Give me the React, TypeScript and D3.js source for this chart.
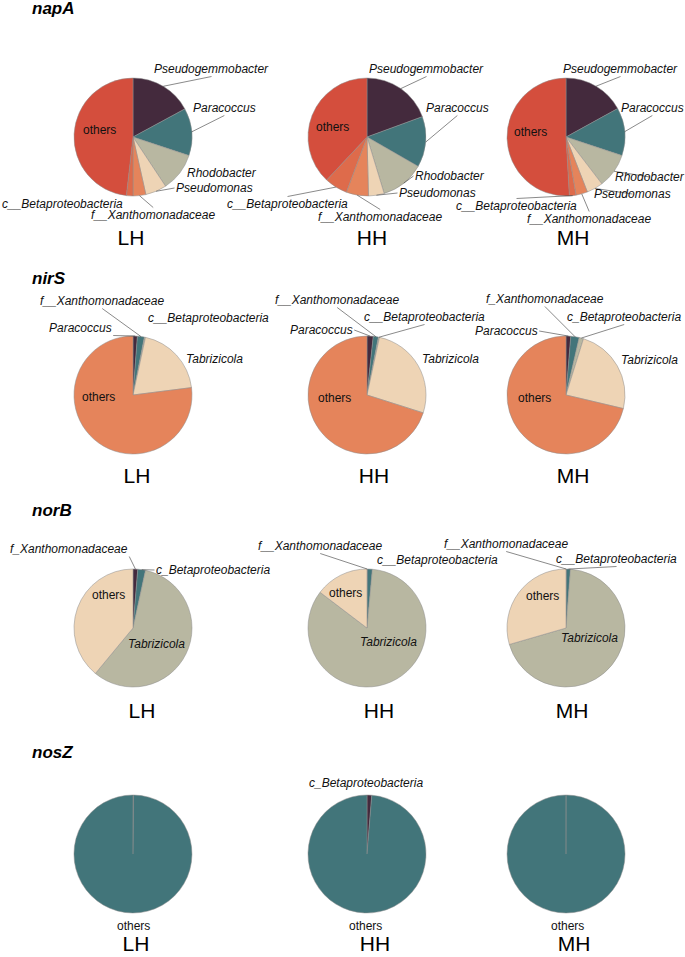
import React, { useEffect, useRef } from 'react';
import * as d3 from 'd3';

// ---------------- DATA ----------------
const genes = ['napA', 'nirS', 'norB', 'nosZ'];
const groups = ['LH', 'HH', 'MH'];

// napA (percent, clockwise from 12 o'clock)
const napATaxa = ['Pseudogemmobacter', 'Paracoccus', 'Rhodobacter', 'Pseudomonas', 'f__Xanthomonadaceae', 'c__Betaproteobacteria', 'others'];
const napALH = [17.1, 13.0, 10.6, 5.8, 3.5, 1.8, 48.2];
const napAHH = [19.4, 13.9, 12.0, 4.3, 6.1, 6.3, 38.0];
const napAMH = [17.0, 13.1, 9.5, 4.5, 3.2, 1.8, 50.9];

// nirS
const nirSTaxa = ['Paracoccus', 'f__Xanthomonadaceae', 'c__Betaproteobacteria', 'Tabrizicola', 'others'];
const nirSTaxaMH = ['Paracoccus', 'f_Xanthomonadaceae', 'c_Betaproteobacteria', 'Tabrizicola', 'others'];
const nirSLH = [1.2, 1.9, 0.3, 19.6, 77.0];
const nirSHH = [1.7, 1.4, 0.3, 26.5, 70.1];
const nirSMH = [1.3, 2.3, 1.2, 23.9, 71.3];

// norB
const norBTaxa = ['f__Xanthomonadaceae', 'c__Betaproteobacteria', 'Tabrizicola', 'others'];
const norBTaxaLH = ['f_Xanthomonadaceae', 'c_Betaproteobacteria', 'Tabrizicola', 'others'];
const norBLH = [1.3, 2.1, 57.6, 39.0];
const norBHH = [0.1, 1.35, 83.9, 14.65];
const norBMH = [0.1, 1.1, 69.3, 29.5];

// nosZ
const nosZTaxa = ['c_Betaproteobacteria', 'others'];
const nosZLH = [0.15, 99.85];
const nosZHH = [1.3, 98.7];
const nosZMH = [0.02, 99.98];

const panelValues: Record<string, number[]> = {
  'napA-LH': napALH, 'napA-HH': napAHH, 'napA-MH': napAMH,
  'nirS-LH': nirSLH, 'nirS-HH': nirSHH, 'nirS-MH': nirSMH,
  'norB-LH': norBLH, 'norB-HH': norBHH, 'norB-MH': norBMH,
  'nosZ-LH': nosZLH, 'nosZ-HH': nosZHH, 'nosZ-MH': nosZMH,
};
const panelNames: Record<string, string[]> = {
  'napA-LH': napATaxa, 'napA-HH': napATaxa, 'napA-MH': napATaxa,
  'nirS-LH': nirSTaxa, 'nirS-HH': nirSTaxa, 'nirS-MH': nirSTaxaMH,
  'norB-LH': norBTaxaLH, 'norB-HH': norBTaxa, 'norB-MH': norBTaxa,
  'nosZ-LH': nosZTaxa, 'nosZ-HH': nosZTaxa, 'nosZ-MH': nosZTaxa,
};

// ---------------- STYLE / LAYOUT ----------------
const PLUM = '#442a3d', TEAL = '#42757a', KHAKI = '#b8b7a1', PEACH = '#eed4b5';
const SALMON = '#e5845b', ORANGE = '#de6b4b', RED = '#d44e3d';
const geneColors: Record<string, string[]> = {
  napA: [PLUM, TEAL, KHAKI, PEACH, SALMON, ORANGE, RED],
  nirS: [PLUM, TEAL, KHAKI, PEACH, SALMON],
  norB: [PLUM, TEAL, KHAKI, PEACH],
  nosZ: [PLUM, TEAL],
};

const W = 685, H = 957;
const R = 59;
const pieCX = [133, 367, 566];
const rowCY = [137, 395, 628, 854];
const titleX = 32;
const titleY = [14, 284, 516, 758];
const groupLabelY = [245, 483, 718, 951];
const groupLabelX = [[131, 372, 573], [137, 374, 573], [142, 379, 572], [136, 375, 574]];

type P = [number, number] | null;
const labelPos: Record<string, P[]> = {
  'napA-LH': [[154, 73], [193, 112], [187, 177], [176, 192], [91, 219], [2, 208], [83, 134]],
  'napA-HH': [[369, 73], [426, 112], [415, 180], [399, 197], [318, 221], [227, 208], [316, 131]],
  'napA-MH': [[563, 73], [621, 112], [615, 181], [594, 198], [527, 223], [456, 210], [514, 136]],
  'nirS-LH': [[49, 332], [40, 305], [148, 322], [186, 363], [82, 401]],
  'nirS-HH': [[290, 334], [275, 304], [364, 321], [422, 363], [318, 402]],
  'nirS-MH': [[475, 335], [486, 303], [567, 321], [621, 364], [518, 402]],
  'norB-LH': [[10, 553], [156, 574], [128, 648], [92, 599]],
  'norB-HH': [[258, 550], [377, 564], [360, 646], [329, 597]],
  'norB-MH': [[444, 548], [556, 563], [561, 642], [526, 600]],
  'nosZ-LH': [null, [117, 930]],
  'nosZ-HH': [[309, 787], [349, 930]],
  'nosZ-MH': [null, [551, 930]],
};

const FONT = '"Liberation Sans", Arial, Helvetica, sans-serif';

export default function App() {
  const ref = useRef<SVGSVGElement>(null);

  useEffect(() => {
    const svg = d3.select(ref.current);
    svg.selectAll('*').remove();
    svg.append('rect').attr('width', W).attr('height', H).attr('fill', '#ffffff');

    const pieLayer = svg.append('g');
    const segLayer = svg.append('g');
    const textLayer = svg.append('g');

    const pie = d3.pie<number>().sort(null).value((d) => d);
    const arc = d3.arc<d3.PieArcDatum<number>>().innerRadius(0).outerRadius(R);

    genes.forEach((gene, gi) => {
      textLayer.append('text')
        .attr('x', titleX).attr('y', titleY[gi])
        .attr('font-family', FONT).attr('font-size', 17)
        .attr('font-weight', 'bold').attr('font-style', 'italic')
        .attr('fill', '#000')
        .text(gene);

      groups.forEach((grp, ci) => {
        const key = `${gene}-${grp}`;
        const vals = panelValues[key];
        const names = panelNames[key];
        const colors = geneColors[gene];
        const cx = pieCX[ci], cy = rowCY[gi];
        const arcs = pie(vals);

        pieLayer.append('g')
          .attr('transform', `translate(${cx},${cy})`)
          .selectAll('path')
          .data(arcs)
          .join('path')
          .attr('d', arc as any)
          .attr('fill', (_d, i) => colors[i])
          .attr('stroke', '#8c8c8c')
          .attr('stroke-width', 0.5);

        const pos = labelPos[key];
        arcs.forEach((a, i) => {
          const p = pos[i];
          if (!p) return;
          const name = names[i];
          const t = textLayer.append('text')
            .attr('x', p[0]).attr('y', p[1])
            .attr('font-family', FONT).attr('font-size', 12)
            .attr('font-style', name === 'others' ? 'normal' : 'italic')
            .attr('fill', '#111')
            .text(name);
          const node = t.node() as SVGTextElement;
          const bb = node.getBBox();
          const pad = 1.5;
          const x1 = bb.x - pad, x2 = bb.x + bb.width + pad;
          const y1 = bb.y + 1 - pad, y2 = bb.y + bb.height - 1 + pad;
          const mid = (a.startAngle + a.endAngle) / 2;
          const px = cx + Math.sin(mid) * R;
          const py = cy - Math.cos(mid) * R;
          const bcx = (x1 + x2) / 2, bcy = (y1 + y2) / 2;
          if (Math.hypot(bcx - cx, bcy - cy) < R) return; // label on the pie
          const qx = px >= x2 ? x2 : px <= x1 ? x1 : bcx;
          const qy = py >= y2 ? y2 : py <= y1 ? y1 : bcy;
          if (Math.hypot(qx - px, qy - py) < 12) return;
          segLayer.append('line')
            .attr('x1', px).attr('y1', py).attr('x2', qx).attr('y2', qy)
            .attr('stroke', '#3a3a3a').attr('stroke-width', 0.6);
        });

        textLayer.append('text')
          .attr('x', groupLabelX[gi][ci]).attr('y', groupLabelY[gi])
          .attr('text-anchor', 'middle')
          .attr('font-family', FONT).attr('font-size', 21)
          .attr('fill', '#000')
          .text(grp);
      });
    });
  }, []);

  return (
    <svg
      ref={ref}
      width={W}
      height={H}
      viewBox={`0 0 ${W} ${H}`}
      style={{ position: 'absolute', left: 0, top: 0, display: 'block' }}
    />
  );
}
